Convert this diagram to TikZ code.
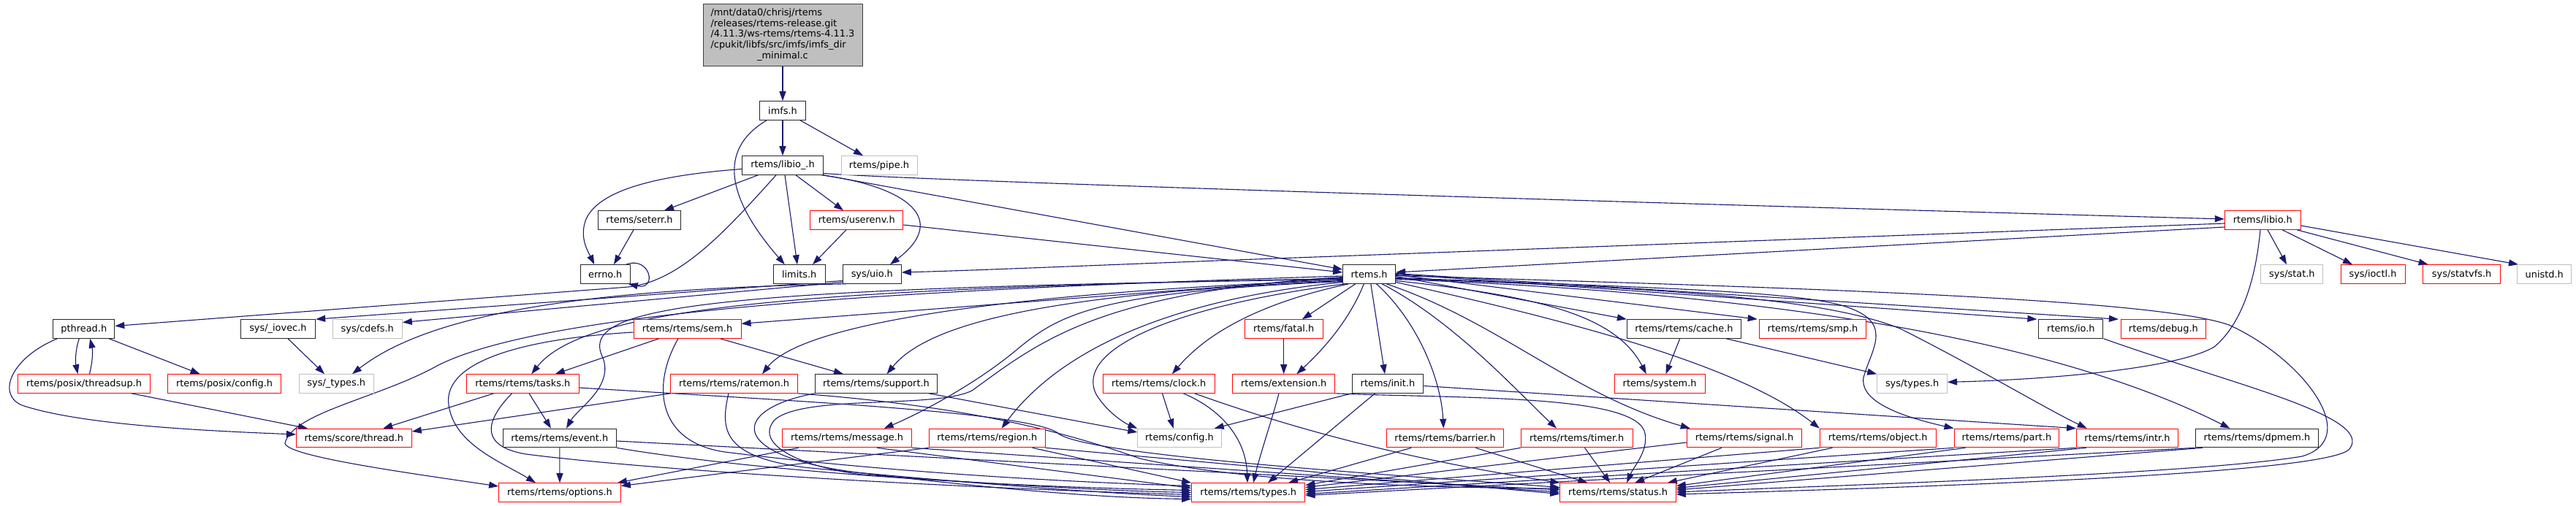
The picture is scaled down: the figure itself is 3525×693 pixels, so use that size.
\documentclass[tikz,border=0pt]{standalone}
\usepackage{fontspec}
\newfontfamily\dvfont{DejaVu Sans}
\usetikzlibrary{arrows.meta,backgrounds}
\definecolor{edgec}{HTML}{191970}
\definecolor{redc}{HTML}{FF0000}
\definecolor{grayc}{HTML}{BFBFBF}
\newcommand{\nodefont}{\dvfont\fontsize{12.9pt}{14.85pt}\selectfont}
\tikzset{
  nd/.style={draw=black!85, line width=1pt, rectangle, minimum height=25.6pt, inner sep=0pt, font=\nodefont, fill=white},
  rd/.style={nd, draw=redc},
  gd/.style={nd, draw=grayc},
  rootnd/.style={nd, fill=grayc, draw=black!75},
  ed/.style={draw=edgec, line width=1.1pt, -{Triangle[length=13pt,width=9pt]}},
}
\begin{document}
\begin{tikzpicture}[x=1pt,y=-1pt]
\useasboundingbox (0,0) rectangle (3525,693);
% nodes
\node[rootnd, minimum width=218pt, minimum height=84pt] (root) at (1071,48) {\begin{tabular}{@{}l@{}}/mnt/data0/chrisj/rtems\\/releases/rtems-release.git\\/4.11.3/ws-rtems/rtems-4.11.3\\/cpukit/libfs/src/imfs/imfs\_dir\\\multicolumn{1}{@{}c@{}}{\_minimal.c}\end{tabular}};
\node[nd, minimum width=63pt] (imfs) at (1071,151.5) {imfs.h};
\node[nd, minimum width=111pt] (libiou) at (1071,226.5) {rtems/libio\_.h};
\node[gd, minimum width=104pt] (pipe) at (1203,226.5) {rtems/pipe.h};
\node[nd, minimum width=113pt] (seterr) at (875,301.5) {rtems/seterr.h};
\node[rd, minimum width=127pt] (userenv) at (1172.3,301.5) {rtems/userenv.h};
\node[rd, minimum width=104pt] (libio) at (3096.3,301.5) {rtems/libio.h};
\node[nd, minimum width=68pt] (errno) at (828.3,375.5) {errno.h};
\node[nd, minimum width=71pt] (limits) at (1093.7,375.5) {limits.h};
\node[nd, minimum width=80pt] (uio) at (1193.3,375.5) {sys/uio.h};
\node[nd, minimum width=72pt] (rtemsh) at (1873.6,375.5) {rtems.h};
\node[gd, minimum width=85pt] (sysstat) at (3136.4,375.5) {sys/stat.h};
\node[rd, minimum width=88pt] (ioctl) at (3247,375.5) {sys/ioctl.h};
\node[rd, minimum width=106pt] (statvfs) at (3368.6,375.5) {sys/statvfs.h};
\node[gd, minimum width=74.5pt] (unistd) at (3481.7,375.5) {unistd.h};
\node[nd, minimum width=84pt] (pthread) at (114.8,450.5) {pthread.h};
\node[nd, minimum width=102.5pt] (iovec) at (380.4,450.5) {sys/\_iovec.h};
\node[gd, minimum width=95pt] (cdefs) at (502.8,450.5) {sys/cdefs.h};
\node[rd, minimum width=147pt] (sem) at (940.5,450.5) {rtems/rtems/sem.h};
\node[rd, minimum width=106.6pt] (fatal) at (1756.7,450.5) {rtems/fatal.h};
\node[nd, minimum width=156pt] (cache) at (2304.4,450.5) {rtems/rtems/cache.h};
\node[rd, minimum width=146.6pt] (smp) at (2480.5,450.5) {rtems/rtems/smp.h};
\node[nd, minimum width=88pt] (io) at (2833.9,450.5) {rtems/io.h};
\node[rd, minimum width=116pt] (debug) at (2960.4,450.5) {rtems/debug.h};
\node[rd, minimum width=180.2pt] (threadsup) at (115,525.5) {rtems/posix/threadsup.h};
\node[rd, minimum width=155pt] (pconfig) at (307.1,525.5) {rtems/posix/config.h};
\node[gd, minimum width=102.6pt] (stypes) at (460.3,525.5) {sys/\_types.h};
\node[rd, minimum width=153.5pt] (tasks) at (715.3,525.5) {rtems/rtems/tasks.h};
\node[rd, minimum width=173.3pt] (ratemon) at (1004.6,525.5) {rtems/rtems/ratemon.h};
\node[nd, minimum width=166.7pt] (support) at (1199,525.5) {rtems/rtems/support.h};
\node[rd, minimum width=152.6pt] (clock) at (1585.7,525.5) {rtems/rtems/clock.h};
\node[rd, minimum width=139.6pt] (extension) at (1756.7,525.5) {rtems/extension.h};
\node[nd, minimum width=97.6pt] (init) at (1899,525.5) {rtems/init.h};
\node[rd, minimum width=124pt] (system) at (2271.1,525.5) {rtems/system.h};
\node[gd, minimum width=95.7pt] (systypes) at (2616.6,525.5) {sys/types.h};
\node[rd, minimum width=157.7pt] (sthread) at (484.4,600) {rtems/score/thread.h};
\node[nd, minimum width=155pt] (event) at (765.8,600) {rtems/rtems/event.h};
\node[rd, minimum width=177pt] (message) at (1159.1,600) {rtems/rtems/message.h};
\node[rd, minimum width=158.8pt] (region) at (1350.8,600) {rtems/rtems/region.h};
\node[gd, minimum width=114.4pt] (config) at (1614,600) {rtems/config.h};
\node[rd, minimum width=160.7pt] (barrier) at (1977.6,600) {rtems/rtems/barrier.h};
\node[rd, minimum width=152.7pt] (timer) at (2157.7,600) {rtems/rtems/timer.h};
\node[rd, minimum width=157.6pt] (signal) at (2387,600) {rtems/rtems/signal.h};
\node[rd, minimum width=158.8pt] (object) at (2569.7,600) {rtems/rtems/object.h};
\node[rd, minimum width=143.8pt] (part) at (2745.9,600) {rtems/rtems/part.h};
\node[rd, minimum width=139pt] (intr) at (2911,600) {rtems/rtems/intr.h};
\node[nd, minimum width=168.2pt] (dpmem) at (3088.5,600) {rtems/rtems/dpmem.h};
\node[rd, minimum width=166.8pt] (options) at (766,674.5) {rtems/rtems/options.h};
\node[rd, minimum width=155.2pt] (types) at (1708.3,674.5) {rtems/rtems/types.h};
\node[rd, minimum width=158.4pt] (status) at (2214.1,674.5) {rtems/rtems/status.h};
% edges
\begin{scope}[on background layer]
\fill[white] (0,0) rectangle (3525,693);
\draw[ed] (root.south) -- (imfs.north);
\draw[ed] (imfs.south) -- (libiou.north);
\draw[ed] ([xshift=24pt]imfs.south) -- ([xshift=-22pt]pipe.north);
\draw[ed] ([xshift=-22pt]imfs.south) .. controls (990,200) and (985,260) .. ([xshift=-20pt]limits.north);
\draw[ed] ([yshift=-5pt]libiou.west) .. controls (900,240) and (820,260) .. (802,300) .. controls (792,325) and (805,345) .. ([xshift=-15pt]errno.north);
\draw[ed] ([xshift=-33.7pt]libiou.south) -- ([xshift=34pt]seterr.north);
\draw[ed] ([xshift=-9pt]libiou.south) .. controls (990,320) and (930,385) .. (860,393) -- ([yshift=4pt]pthread.east);
\draw[ed] ([xshift=3pt]libiou.south) -- ([xshift=-2.7pt]limits.north);
\draw[ed] ([xshift=18pt]libiou.south) -- ([xshift=-18.3pt]userenv.north);
\draw[ed] ([xshift=-3pt]libiou.south east) .. controls (1240,255) and (1300,300) .. ([xshift=24.7pt]uio.north);
\draw[ed] (libiou.south east) -- ([yshift=6.5pt]rtemsh.west);
\draw[ed] ([yshift=-11pt]libiou.east) .. controls (1300,250) and (2500,285) .. ([yshift=1.5pt]libio.west);
\draw[ed] ([xshift=-8pt]seterr.south) -- ([xshift=11.7pt]errno.north);
\draw[ed] ([xshift=-6pt]errno.north east) .. controls (890,350) and (900,398) .. ([xshift=-3pt]errno.south east);
\draw[ed] ([xshift=-14.3pt]userenv.south) -- ([xshift=18.3pt]limits.north);
\draw[ed] ([yshift=-6.5pt]userenv.east) -- ([yshift=2.5pt]rtemsh.west);
\draw[ed] ([yshift=-4.5pt]libio.west) -- (1800,352) .. controls (1550,361) and (1350,370) .. ([yshift=2.5pt]uio.east);
\draw[ed] ([yshift=-9.5pt]libio.west) -- ([yshift=2.5pt]rtemsh.east);
\draw[ed] ([xshift=-3.3pt]libio.south) .. controls (3085,400) and (3060,450) .. (3030,475) .. controls (2980,505) and (2800,520) .. ([yshift=2.2pt]systypes.east);
\draw[ed] ([xshift=6.7pt]libio.south) -- ([xshift=-7.4pt]sysstat.north);
\draw[ed] ([xshift=26.7pt]libio.south) -- ([xshift=-28pt]ioctl.north);
\draw[ed] ([xshift=46.7pt]libio.south) -- ([xshift=-46pt]statvfs.north);
\draw[ed] ([yshift=-7.5pt]libio.east) -- ([xshift=2pt]unistd.north west);
\draw[ed] ([yshift=-9pt]uio.west) -- (iovec.north east);
\draw[ed] ([yshift=-11pt]uio.west) -- ([yshift=9pt]cdefs.east);
\draw[ed] ([xshift=5pt]uio.south west) .. controls (850,395) and (600,420) .. ([xshift=21.7pt]stypes.north);
\draw[ed] ([xshift=13.6pt]iovec.south) -- ([xshift=-16.3pt]stypes.north);
\draw[ed] ([xshift=-6.5pt]pthread.south) .. controls (103,480) and (103,495) .. ([xshift=-8.6pt]threadsup.north);
\draw[ed] ([xshift=7.4pt]threadsup.north) .. controls (127,495) and (127,480) .. ([xshift=8.4pt]pthread.south);
\draw[ed] ([xshift=34.4pt]pthread.south) -- ([xshift=-33.5pt]pconfig.north);
\draw[ed] ([xshift=-36.4pt]pthread.south) .. controls (15,490) and (-5,540) .. (30,555) .. controls (110,582) and (280,590) .. ([yshift=5pt]sthread.west);
\draw[ed] ([xshift=64.8pt]threadsup.south) -- ([xshift=-63.4pt]sthread.north);
\draw[ed] ([xshift=-39.6pt]tasks.south) -- ([xshift=39.8pt]sthread.north);
\draw[ed] (ratemon.south west) -- ([yshift=9pt]sthread.east);
\draw[ed] ([xshift=-39pt]sem.south) -- ([xshift=44.5pt]tasks.north);
\draw[ed] ([xshift=45pt]sem.south) -- ([xshift=-45pt]support.north);
\draw[ed] ([yshift=-4.5pt]sem.west) .. controls (700,465) and (600,500) .. (615,560) .. controls (625,610) and (690,635) .. ([xshift=-33pt]options.north);
\draw[ed] ([xshift=-12.5pt]sem.south) .. controls (890,530) and (900,610) .. (1000,620) .. controls (1200,645) and (1450,660) .. ([yshift=9pt]types.west);
\draw[ed] ([xshift=8.7pt]tasks.south) -- ([xshift=-11.8pt]event.north);
\draw[ed] ([xshift=-14.8pt]tasks.south) .. controls (660,580) and (660,612) .. (720,622) .. controls (900,645) and (1300,668) .. ([yshift=-3pt]types.west);
\draw[ed] ([yshift=-5.5pt]tasks.east) .. controls (1100,550) and (1420,565) .. (1450,595) .. controls (1500,625) and (1900,650) .. ([yshift=7pt]status.west);
\draw[ed] (event.south) -- (options.north);
\draw[ed] (event.south east) .. controls (1000,640) and (1300,665) .. ([yshift=3pt]types.west);
\draw[ed] ([yshift=-4pt]event.east) -- ([yshift=3.5pt]status.west);
\draw[ed] ([xshift=-66.4pt]message.south) -- ([xshift=-5pt]options.north east);
\draw[ed] (region.south west) -- ([yshift=9pt]options.east);
\draw[ed] ([yshift=-2.5pt]rtemsh.west) .. controls (1300,395) and (760,420) .. (600,500) .. controls (520,545) and (400,565) .. (390,607) .. controls (392,625) and (560,648) .. ([yshift=8.5pt]options.west);
\draw[ed] ([yshift=-5pt]rtemsh.west) -- ([yshift=7.2pt]sem.east);
\draw[ed] ([yshift=-6pt]rtemsh.west) .. controls (1100,395) and (800,420) .. ([xshift=12pt]tasks.north);
\draw[ed] ([yshift=-7pt]rtemsh.west) .. controls (950,395) and (790,420) .. (825,490) .. controls (840,530) and (790,560) .. ([xshift=9.2pt]event.north);
\draw[ed] ([yshift=-8pt]rtemsh.west) .. controls (1400,400) and (1100,440) .. ([xshift=38.4pt]ratemon.north);
\draw[ed] ([yshift=-9pt]rtemsh.west) .. controls (1500,400) and (1280,430) .. ([xshift=14.6pt]support.north);
\draw[ed] ([yshift=-10pt]rtemsh.west) .. controls (1500,400) and (1450,430) .. (1390,480) .. controls (1330,530) and (1250,570) .. ([xshift=50.6pt]message.north);
\draw[ed] ([yshift=-11pt]rtemsh.west) .. controls (1600,410) and (1450,480) .. ([xshift=19.7pt]region.north);
\draw[ed] ([xshift=-33pt]rtemsh.south) .. controls (1600,420) and (1470,480) .. (1500,540) .. controls (1515,565) and (1540,580) .. (config.north west);
\draw[ed] ([xshift=-28pt]rtemsh.south) .. controls (1700,420) and (1640,470) .. ([xshift=18.2pt]clock.north);
\draw[ed] ([xshift=-18.8pt]rtemsh.south) -- ([xshift=25.3pt]fatal.north);
\draw[ed] ([xshift=-7.3pt]rtemsh.south) .. controls (1850,430) and (1820,470) .. ([xshift=17.7pt]extension.north);
\draw[ed] ([xshift=2.2pt]rtemsh.south) -- ([xshift=-4pt]init.north);
\draw[ed] ([xshift=9.9pt]rtemsh.south) .. controls (1940,440) and (1972,520) .. ([xshift=-2.3pt]barrier.north);
\draw[ed] ([xshift=17.4pt]rtemsh.south) .. controls (1990,440) and (2080,540) .. ([xshift=-27.7pt]timer.north);
\draw[ed] ([xshift=23.4pt]rtemsh.south) .. controls (2050,440) and (2150,540) .. ([xshift=5pt]signal.north west);
\draw[ed] ([yshift=-3pt]rtemsh.east) -- (cache.north west);
\draw[ed] ([yshift=-9pt]rtemsh.east) .. controls (2100,405) and (2210,430) .. ([xshift=-18.3pt]system.north);
\draw[ed] ([yshift=-1pt]rtemsh.east) -- ([xshift=-2pt]smp.north west);
\draw[ed] (rtemsh.east) -- ([xshift=-2pt]io.north west);
\draw[ed] ([yshift=1pt]rtemsh.east) -- ([xshift=-3pt]debug.north west);
\draw[ed] ([yshift=-11pt]rtemsh.east) .. controls (2150,440) and (2380,500) .. (object.north west);
\draw[ed] ([yshift=-5pt]rtemsh.east) .. controls (2300,395) and (2480,400) .. (2534,423) .. controls (2590,445) and (2560,480) .. (2550,517) .. controls (2545,550) and (2600,570) .. (part.north west);
\draw[ed] ([yshift=-6pt]rtemsh.east) .. controls (2300,395) and (2500,410) .. (2600,450) .. controls (2700,500) and (2800,560) .. ([xshift=-55.3pt]intr.north);
\draw[ed] ([yshift=-3pt]init.east) -- (intr.north west);
\draw[ed] ([yshift=-7pt]rtemsh.east) .. controls (2400,400) and (2800,460) .. ([xshift=-37pt]dpmem.north);
\draw[ed] ([yshift=-2pt]rtemsh.east) .. controls (2500,395) and (2950,410) .. (3050,445) .. controls (3150,490) and (3235,600) .. (3150,625) .. controls (3000,650) and (2500,665) .. ([yshift=0.5pt]status.east);
\draw[ed] (io.south east) .. controls (3050,525) and (3250,570) .. (3215,615) .. controls (3185,650) and (2600,668) .. ([yshift=-2.5pt]status.east);
\draw[ed] ([xshift=-5.7pt]cache.south) -- ([xshift=8.4pt]system.north);
\draw[ed] ([xshift=57.6pt]cache.south) -- (systypes.north west);
\draw[ed] (fatal.south) -- (extension.north);
\draw[ed] ([xshift=4.8pt]clock.south) -- ([xshift=-8.2pt]config.north);
\draw[ed] ([xshift=33.5pt]clock.south) .. controls (1670,560) and (1705,600) .. ([xshift=-1.3pt]types.north);
\draw[ed] ([xshift=48.8pt]clock.south) .. controls (1750,580) and (1900,625) .. (status.north west);
\draw[ed] ([xshift=-6.7pt]extension.south) .. controls (1742,570) and (1725,620) .. ([xshift=6.7pt]types.north);
\draw[ed] (extension.south east) .. controls (2000,546) and (2230,540) .. (2250,590) .. controls (2258,615) and (2235,640) .. ([xshift=12pt]status.north);
\draw[ed] (init.south west) -- ([xshift=-10pt]config.north east);
\draw[ed] ([xshift=-17.5pt]init.south) -- ([xshift=26.7pt]types.north);
\draw[ed] ([xshift=-46.3pt]barrier.south) -- ([xshift=54.7pt]types.north);
\draw[ed] ([xshift=41.4pt]barrier.south) -- ([xshift=-41.7pt]status.north);
\draw[ed] (timer.south west) -- ([yshift=10pt]types.east);
\draw[ed] ([xshift=10.8pt]timer.south) -- ([xshift=-11pt]status.north);
\draw[ed] ([yshift=-6pt]signal.west) -- ([yshift=7pt]types.east);
\draw[ed] ([xshift=-31pt]signal.south) -- ([xshift=23pt]status.north);
\draw[ed] (object.south west) -- ([yshift=4pt]types.east);
\draw[ed] ([xshift=-62.2pt]object.south) -- ([xshift=-12pt]status.north east);
\draw[ed] (part.south west) -- ([yshift=1pt]types.east);
\draw[ed] ([xshift=16pt]part.south west) -- ([yshift=9pt]status.east);
\draw[ed] (intr.south west) -- ([yshift=-2pt]types.east);
\draw[ed] ([xshift=14pt]intr.south west) -- ([yshift=6pt]status.east);
\draw[ed] (dpmem.south west) -- ([yshift=-4pt]types.east);
\draw[ed] ([xshift=10pt]dpmem.south west) -- ([yshift=3.5pt]status.east);
\draw[ed] ([xshift=41pt]message.south) -- ([yshift=6pt]types.west);
\draw[ed] (message.south east) -- ([yshift=0.5pt]status.west);
\draw[ed] ([xshift=61.8pt]region.south) -- (types.north west);
\draw[ed] (region.south east) -- ([yshift=-2pt]status.west);
\draw[ed] ([xshift=-7.6pt]ratemon.south) .. controls (985,590) and (990,625) .. (1100,640) .. controls (1300,660) and (1500,675) .. ([yshift=-6pt]types.west);
\draw[ed] (ratemon.south east) .. controls (1350,558) and (1480,600) .. (1560,628) .. controls (1700,660) and (1950,668) .. ([yshift=5.5pt]status.west);
\draw[ed] (support.south west) .. controls (1000,560) and (990,625) .. (1180,648) .. controls (1350,668) and (1500,682) .. ([yshift=-9pt]types.west);
\draw[ed] ([xshift=72pt]support.south) -- ([yshift=8pt]config.west);
\draw[ed] ([yshift=-4pt]rtemsh.west) .. controls (1500,400) and (1420,470) .. (1330,535) .. controls (1280,560) and (1100,540) .. (1060,575) .. controls (1030,610) and (1100,640) .. (1180,650) .. controls (1350,662) and (1500,672) .. (types.west);
\end{scope}
\end{tikzpicture}
\end{document}
